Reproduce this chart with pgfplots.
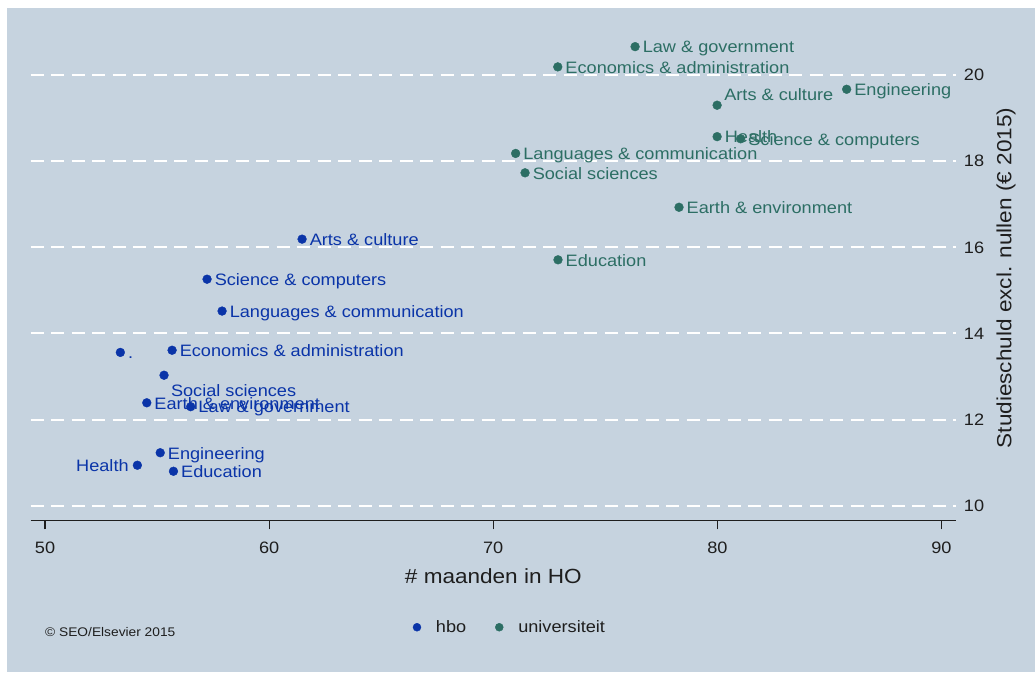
\documentclass[border=0pt]{standalone}
\usepackage{pgfplots}
\usepackage{pgfplotstable}
\pgfplotsset{compat=1.18}
\usepackage{fontspec}
\setmainfont{Liberation Sans}[FakeStretch=1.1]
\definecolor{bg}{RGB}{198,211,223}
\definecolor{hbo}{RGB}{10,52,168}
\definecolor{uni}{RGB}{44,110,100}
\definecolor{axcol}{RGB}{30,30,30}

% hbo, labels to the right
\pgfplotstableread[col sep=comma]{
x,y,label
53.36,13.56,.
55.67,13.61,Economics \& administration
54.54,12.39,Earth \& environment
56.50,12.30,Law \& government
61.47,16.19,Arts \& culture
57.23,15.26,Science \& computers
57.90,14.52,Languages \& communication
55.14,11.23,Engineering
55.73,10.80,Education
}\hboright
% hbo, label below right
\pgfplotstableread[col sep=comma]{
x,y,label
55.31,13.03,Social sciences
}\hbobelow
% hbo, label to the left
\pgfplotstableread[col sep=comma]{
x,y,label
54.12,10.94,Health
}\hboleft

% universiteit, labels to the right
\pgfplotstableread[col sep=comma]{
x,y,label
76.33,20.66,Law \& government
72.88,20.19,Economics \& administration
85.77,19.67,Engineering
79.99,18.57,Health
81.04,18.52,Science \& computers
71.00,18.18,Languages \& communication
71.42,17.73,Social sciences
78.29,16.93,Earth \& environment
72.89,15.71,Education
}\uniright
% universiteit, label above right
\pgfplotstableread[col sep=comma]{
x,y,label
79.99,19.30,Arts \& culture
}\uniabove

\pgfplotsset{
  lab/.style 2 args={only marks, mark=*, mark size=4.4pt, color=#1,
    mark options={draw=#1, fill=#1}, forget plot,
    nodes near coords, point meta=explicit symbolic,
    every node near coord/.style={inner sep=0pt, text=#1,
      font=\fontsize{16.5}{18}\selectfont, #2}},
  legimg/.style={legend image code/.code={\path[draw=none,fill=none] (0pt,0pt) -- (17pt,0pt); \draw[##1] plot coordinates {(0pt,0pt)};}},
}

\begin{document}
\begin{tikzpicture}[x=1pt,y=1pt]
\useasboundingbox (0,0) rectangle (1035,672);
\fill[white] (0,0) rectangle (1035,672);
\fill[bg] (7,0) rectangle (1035,664);
\begin{axis}[
  at={(30.7pt,151.3pt)}, anchor=south west, scale only axis,
  width=925.3pt, height=488.7pt,
  xmin=49.36, xmax=90.65, ymin=9.652, ymax=21.0,
  axis x line*=bottom, axis y line*=right,
  y axis line style={draw=none},
  x axis line style={-, axcol, line width=1.3pt},
  xtick={50,60,70,80,90}, ytick={10,12,14,16,18,20},
  tick align=outside, major tick length=8.7pt,
  xtick style={axcol, line width=1.2pt},
  ytick style={draw=none},
  ymajorgrids, grid style={white, line width=2pt, dash pattern=on 13pt off 7.5pt},
  /pgf/number format/assume math mode=true,
  ticklabel style={font=\fontsize{16.5}{18}\selectfont, text=axcol},
  xticklabel style={inner sep=0pt, anchor=north, yshift=-12pt},
  yticklabel style={inner sep=0pt, anchor=west, xshift=-1pt},
  yticklabel pos=right,
  every axis x label/.style={at={(axis description cs:0.5,-0.1275)}, anchor=base, font=\fontsize{20.5}{24}\selectfont, text=axcol},
  every axis y label/.style={at={(axis description cs:1.054,0.4966)}, anchor=center, rotate=90, font=\fontsize{20.5}{24}\selectfont, text=axcol},
  xlabel={\# maanden in HO},
  ylabel={Studieschuld excl. nullen (€ 2015)},
  clip=false,
  legend columns=2,
  legend style={at={(axis description cs:0.518,-0.218)}, anchor=center, draw=none, fill=none,
    font=\fontsize{16.5}{18}\selectfont, text=axcol,
    /tikz/every even column/.append style={column sep=27pt}},
]
\addlegendimage{legimg, only marks, mark=*, mark size=4pt, color=hbo, mark options={draw=hbo, fill=hbo}}
\addlegendentry{hbo}
\addlegendimage{legimg, only marks, mark=*, mark size=4pt, color=uni, mark options={draw=uni, fill=uni}}
\addlegendentry{universiteit}

\addplot[lab={hbo}{anchor=base west, xshift=7.5pt, yshift=-6.3pt}] table[x=x, y=y, meta=label] {\hboright};
\addplot[lab={hbo}{anchor=base west, xshift=6.8pt, yshift=-21.7pt}] table[x=x, y=y, meta=label] {\hbobelow};
\addplot[lab={hbo}{anchor=base east, xshift=-8.5pt, yshift=-6.3pt}] table[x=x, y=y, meta=label] {\hboleft};
\addplot[lab={uni}{anchor=base west, xshift=7.5pt, yshift=-6.3pt}] table[x=x, y=y, meta=label] {\uniright};
\addplot[lab={uni}{anchor=base west, xshift=7pt, yshift=4.3pt}] table[x=x, y=y, meta=label] {\uniabove};
\end{axis}
\node[anchor=west, inner sep=0pt, font=\fontsize{12.5}{14}\selectfont, text=axcol] at (45,40) {© SEO/Elsevier 2015};
\end{tikzpicture}
\end{document}
